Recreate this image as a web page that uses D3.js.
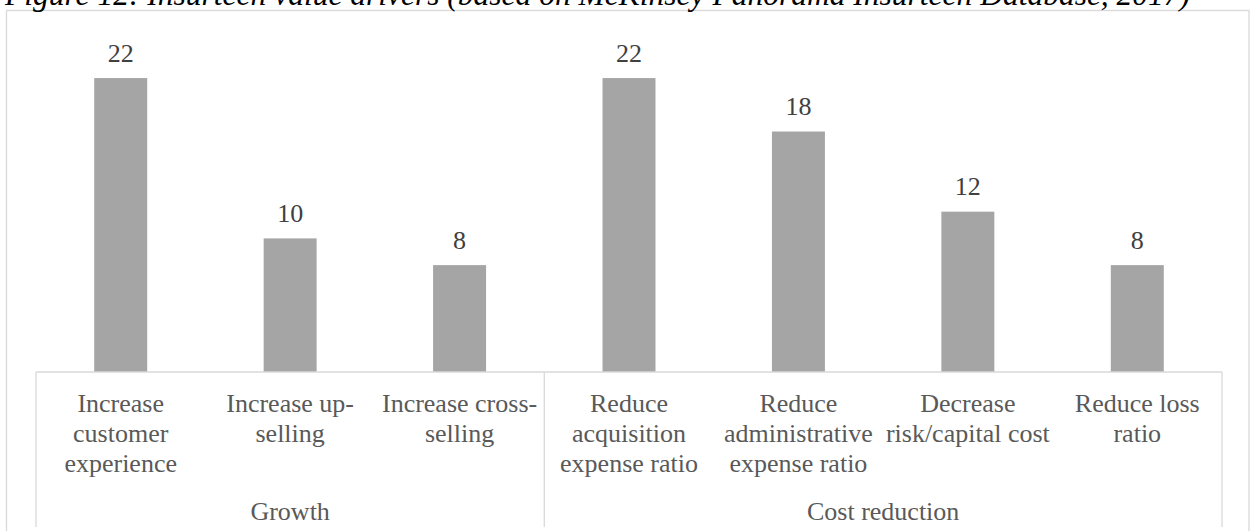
<!DOCTYPE html>
<html>
<head>
<meta charset="utf-8">
<script src="https://cdn.jsdelivr.net/npm/d3@7"></script>
<style>
  html, body { margin: 0; padding: 0; background: #fff; overflow: hidden; }
  svg { display: block; }
</style>
</head>
<body>
<svg id="chart" width="1252" height="531"></svg>
<script>
// Insurtech value drivers, grouped by business objective
const categories = [
  "Increase\ncustomer\nexperience",
  "Increase up-\nselling",
  "Increase cross-\nselling",
  "Reduce\nacquisition\nexpense ratio",
  "Reduce\nadministrative\nexpense ratio",
  "Decrease\nrisk/capital cost",
  "Reduce loss\nratio"
];
const values = [22, 10, 8, 22, 18, 12, 8];
const groups = ["Growth", "Cost reduction"];
const groupSizes = [3, 4];
const titleText = "Figure 12: Insurtech value drivers (based on McKinsey Panorama Insurtech Database, 2017)";

const svg = d3.select("#chart");

const plot = { left: 36, right: 1222, top: 38, bottom: 372 };

const x = d3.scaleBand()
  .domain(d3.range(categories.length))
  .range([plot.left, plot.right])
  .paddingInner(0.6873)
  .paddingOuter(0.6873 / 2);

const y = d3.scaleLinear()
  .domain([0, 25])
  .range([plot.bottom, plot.top]);

const serif = "'Liberation Serif', 'Times New Roman', serif";
const lineColor = "#d9d9d9";

// outer chart frame
svg.append("rect")
  .attr("x", 6.5).attr("y", 10.5)
  .attr("width", 1242.5).attr("height", 540)
  .attr("fill", "none")
  .attr("stroke", lineColor)
  .attr("stroke-width", 1.3);

// caption above the frame
svg.append("text")
  .attr("x", 5).attr("y", 5)
  .attr("font-family", serif)
  .attr("font-style", "italic")
  .attr("font-size", 31.5)
  .attr("fill", "#000")
  .text(titleText);

// bars
svg.append("g")
  .selectAll("rect")
  .data(values)
  .join("rect")
  .attr("x", (d, i) => x(i))
  .attr("width", x.bandwidth())
  .attr("y", d => y(d))
  .attr("height", d => y(0) - y(d))
  .attr("fill", "#a5a5a5");

// value labels
svg.append("g")
  .selectAll("text")
  .data(values)
  .join("text")
  .attr("x", (d, i) => x(i) + x.bandwidth() / 2)
  .attr("y", d => y(d) - 16.5)
  .attr("text-anchor", "middle")
  .attr("font-family", serif)
  .attr("font-size", 26)
  .attr("fill", "#404040")
  .text(d => d);

// category axis: baseline and group separators
const axisBottom = 527;
const axisG = svg.append("g")
  .attr("stroke", lineColor)
  .attr("stroke-width", 1.3)
  .attr("fill", "none");

axisG.append("line")
  .attr("x1", plot.left).attr("x2", plot.right)
  .attr("y1", plot.bottom).attr("y2", plot.bottom);

const step = x.step();
let acc = 0;
const bounds = [plot.left];
groupSizes.forEach(n => { acc += n; bounds.push(plot.left + acc * step); });
bounds[bounds.length - 1] = plot.right;

axisG.selectAll("line.sep")
  .data(bounds)
  .join("line")
  .attr("class", "sep")
  .attr("x1", d => d).attr("x2", d => d)
  .attr("y1", plot.bottom).attr("y2", axisBottom);

// category labels (multi-line)
const catG = svg.append("g")
  .attr("font-family", serif)
  .attr("font-size", 26)
  .attr("fill", "#595959")
  .attr("text-anchor", "middle");

catG.selectAll("text")
  .data(categories)
  .join("text")
  .attr("x", (d, i) => x(i) + x.bandwidth() / 2)
  .attr("y", 412)
  .each(function(d, i) {
    const cx = x(i) + x.bandwidth() / 2;
    d3.select(this).selectAll("tspan")
      .data(d.split("\n"))
      .join("tspan")
      .attr("x", cx)
      .attr("dy", (t, j) => j === 0 ? 0 : 30)
      .text(t => t);
  });

// group labels
catG.selectAll("text.group")
  .data(groups)
  .join("text")
  .attr("class", "group")
  .attr("x", (d, i) => (bounds[i] + bounds[i + 1]) / 2)
  .attr("y", 520)
  .text(d => d);
</script>
</body>
</html>
